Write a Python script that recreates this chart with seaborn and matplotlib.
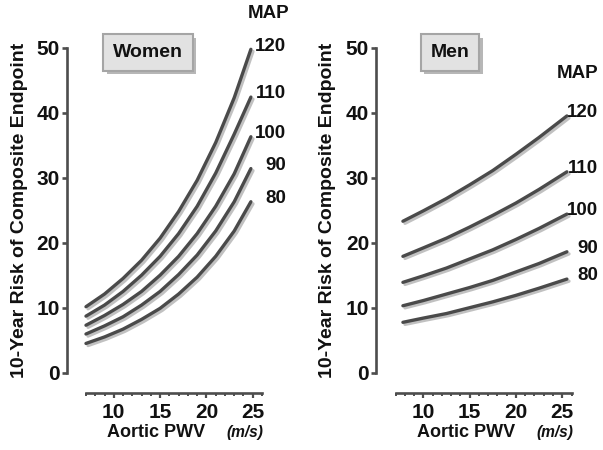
"""Aortic PWV 与 10 年复合终点风险曲线（按 MAP 分层，女性 / 男性）。"""

import matplotlib
matplotlib.use("Agg")  # 无头环境
import matplotlib.pyplot as plt
import matplotlib.patheffects as pe
import matplotlib.transforms as mtransforms
from matplotlib.ticker import MultipleLocator
import seaborn as sns

# ---- 数据 ----
map_levels = [120, 110, 100, 90, 80]

women_pwv = [7, 9, 11, 13, 15, 17, 19, 21, 23, 24.8]
women_120 = [10.15, 12.1, 14.5, 17.3, 20.7, 24.8, 29.6, 35.4, 42.3, 49.75]
women_110 = [8.7, 10.4, 12.5, 15.0, 17.9, 21.4, 25.6, 30.7, 36.7, 42.4]
women_100 = [7.3, 8.8, 10.5, 12.5, 15.0, 17.9, 21.4, 25.6, 30.6, 36.3]
women_90 = [5.95, 7.2, 8.6, 10.4, 12.5, 15.1, 18.1, 21.8, 26.3, 31.4]
women_80 = [4.5, 5.5, 6.7, 8.2, 9.9, 12.1, 14.7, 17.9, 21.8, 26.3]

men_pwv = [7.8, 10, 12.5, 15, 17.5, 20, 22.5, 25.5]
men_120 = [23.3, 24.9, 26.8, 28.9, 31.1, 33.6, 36.2, 39.5]
men_110 = [17.9, 19.2, 20.7, 22.4, 24.2, 26.1, 28.2, 30.9]
men_100 = [13.9, 14.9, 16.1, 17.5, 18.9, 20.5, 22.2, 24.4]
men_90 = [10.3, 11.1, 12.1, 13.1, 14.2, 15.5, 16.8, 18.6]
men_80 = [7.75, 8.4, 9.1, 10.0, 10.9, 11.9, 13.0, 14.4]

y_ticks = [0, 10, 20, 30, 40, 50]
x_ticks = [10, 15, 20, 25]

sns.set_theme(style="ticks")
plt.rcParams["font.family"] = ["Liberation Sans", "DejaVu Sans"]
plt.rcParams["font.weight"] = "bold"

LINE_COLOR = "#4a4a4a"
SPINE_COLOR = "#4d4d4d"
TEXT_COLOR = "#111111"


def draw_panel(ax, pwv, curves, title, title_x, label_right_x, map_pos, ylabel_x):
    """绘制单个面板：5 条 MAP 曲线 + 标签 + 标题按钮。

    map_pos: (x 轴比例, y 数据值)
    """
    blend = mtransforms.blended_transform_factory(ax.transAxes, ax.transData)
    line_fx = [pe.SimpleLineShadow(offset=(1.5, -1.5), shadow_color="#777777", alpha=0.45),
               pe.Normal()]

    for level, vals in zip(map_levels, curves):
        sns.lineplot(x=pwv, y=vals, ax=ax, color=LINE_COLOR, linewidth=2.4,
                     clip_on=False, path_effects=line_fx)
        # 曲线末端标注 MAP 数值
        ax.text(label_right_x, vals[-1] + 0.5, str(level), transform=blend,
                ha="right", va="center", fontsize=13.5, fontweight="bold",
                color=TEXT_COLOR, clip_on=False)

    ax.text(map_pos[0], map_pos[1], "MAP", transform=blend, ha="center",
            va="center", fontsize=13.5, fontweight="bold", color=TEXT_COLOR)

    # 标题按钮（带阴影的灰色方框）
    t = ax.text(title_x, 0.985, title, transform=ax.transAxes, ha="center",
                va="center", fontsize=14, fontweight="bold", color=TEXT_COLOR,
                bbox=dict(boxstyle="square,pad=0.5", fc="#e2e2e2",
                          ec="#a5a5a5", lw=1.5))
    t.get_bbox_patch().set_path_effects(
        [pe.SimplePatchShadow(offset=(2.5, -2.5), shadow_rgbFace="#888888", alpha=0.6),
         pe.Normal()])

    # 坐标轴
    ax.set_xlim(7, 26)
    ax.set_ylim(0, 50)
    ax.set_yticks(y_ticks)
    ax.set_xticks(x_ticks)
    ax.xaxis.set_minor_locator(MultipleLocator(1))
    sns.despine(ax=ax, offset={"left": 14, "bottom": 14.5})
    for side in ["left", "bottom"]:
        ax.spines[side].set_color(SPINE_COLOR)
        ax.spines[side].set_linewidth(1.9)
    ax.tick_params(axis="y", which="major", length=3.5, width=1.9,
                   color=SPINE_COLOR, pad=1.5, labelsize=15, labelcolor=TEXT_COLOR)
    ax.tick_params(axis="x", which="major", length=3.5, width=1.6,
                   color=SPINE_COLOR, pad=3.5, labelsize=15, labelcolor=TEXT_COLOR)
    ax.tick_params(axis="x", which="minor", length=2.2, width=1.4,
                   color=SPINE_COLOR)
    for lab in ax.get_xticklabels() + ax.get_yticklabels():
        lab.set_fontweight("bold")

    ax.set_ylabel("10-Year Risk of Composite Endpoint", fontsize=14,
                  fontweight="bold", color=TEXT_COLOR, va="center")
    ax.yaxis.set_label_coords(ylabel_x, 0.5)
    ax.set_xlabel("")
    ax.text(0.12, -0.198, "Aortic PWV", transform=ax.transAxes, ha="left",
            va="baseline", fontsize=13, fontweight="bold", color=TEXT_COLOR)
    ax.text(0.80, -0.198, "(m/s)", transform=ax.transAxes, ha="left",
            va="baseline", fontsize=11.2, fontweight="bold", style="italic",
            color=TEXT_COLOR)
    ax.set_facecolor("white")


fig = plt.figure(figsize=(6.03, 4.5), dpi=100)
ax_w = fig.add_axes([0.1426, 0.1718, 0.2919, 0.7222])
ax_m = fig.add_axes([0.6559, 0.1718, 0.2919, 0.7222])

draw_panel(ax_w, women_pwv, [women_120, women_110, women_100, women_90, women_80],
           "Women", 0.352, 1.136, (1.04, 55.3), -0.375)
draw_panel(ax_m, men_pwv, [men_120, men_110, men_100, men_90, men_80],
           "Men", 0.31, 1.15, (1.034, 46.0), -0.386)

fig.savefig("out.png", dpi=100)
plt.close(fig)
